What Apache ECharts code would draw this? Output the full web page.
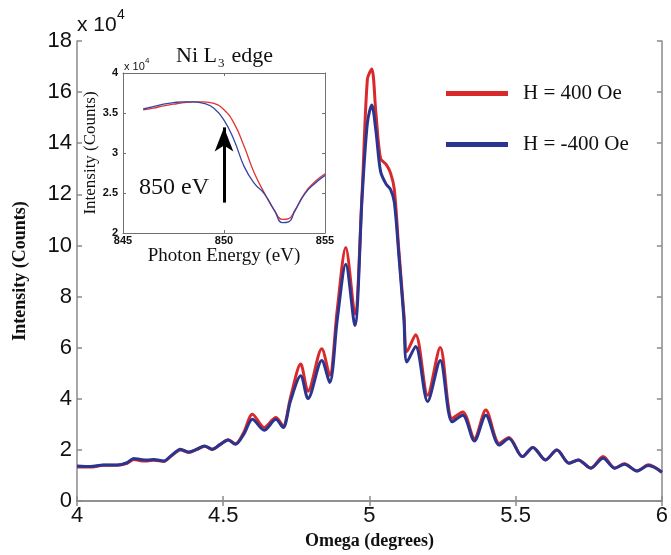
<!DOCTYPE html>
<html>
<head>
<meta charset="utf-8">
<script src="https://cdn.jsdelivr.net/npm/echarts@6/dist/echarts.min.js"></script>
<style>html,body{margin:0;padding:0;background:#fff}#c{width:671px;height:555px}</style>
</head>
<body>
<div id="c"></div>
<script>
// Main panel: Omega (degrees) vs Intensity (x10^4 counts)
const omega = [4.00,4.046,4.09,4.137,4.171,4.194,4.217,4.24,4.263,4.297,4.32,4.354,4.382,4.41,4.436,4.462,4.49,4.517,4.542,4.57,4.60,4.64,4.68,4.705,4.73,4.765,4.79,4.837,4.864,4.89,4.919,4.95,4.975,4.993,5.008,5.022,5.038,5.057,5.072,5.085,5.10,5.118,5.128,5.158,5.199,5.242,5.283,5.319,5.359,5.398,5.444,5.477,5.523,5.559,5.602,5.641,5.683,5.714,5.757,5.799,5.839,5.872,5.915,5.954,6.0];
const intensityPos = [1.33,1.33,1.40,1.40,1.48,1.63,1.58,1.57,1.60,1.55,1.74,2.00,1.90,2.02,2.15,2.02,2.22,2.40,2.24,2.68,3.40,2.88,3.27,2.94,4.05,5.36,4.30,5.96,4.92,7.5,9.92,7.32,12.1,16.5,16.9,15.2,13.4,13.17,12.84,12.2,9.9,7.3,5.85,6.51,4.14,6.01,3.23,3.49,2.45,3.56,2.26,2.49,1.74,2.10,1.61,2.00,1.48,1.61,1.29,1.74,1.29,1.46,1.18,1.42,1.13];
const intensityNeg = [1.37,1.35,1.41,1.41,1.50,1.67,1.63,1.61,1.63,1.57,1.76,2.03,1.92,2.03,2.16,2.03,2.22,2.39,2.22,2.61,3.20,2.77,3.20,2.88,3.92,4.90,4.01,5.50,4.64,7.1,9.27,6.87,11.9,14.8,15.5,14.5,12.9,12.4,12.2,11.7,9.7,7.1,5.44,6.05,3.90,5.50,3.10,3.36,2.35,3.36,2.19,2.45,1.74,2.10,1.61,2.00,1.48,1.61,1.29,1.68,1.29,1.44,1.18,1.39,1.13];
const seriesNames = ['H = 400 Oe','H = -400 Oe'];

// Inset: Ni L3 edge, Photon Energy (eV) vs Intensity (x10^4 counts)
const energy = [846,846.5,847,847.5,848,848.5,849,849.5,850,850.5,851,851.5,852,852.5,852.9,853.2,853.5,854,854.5,855];
const insetPos = [3.54,3.56,3.59,3.61,3.63,3.64,3.64,3.62,3.54,3.37,3.08,2.75,2.50,2.28,2.17,2.18,2.28,2.50,2.64,2.74];
const insetNeg = [3.55,3.58,3.61,3.63,3.64,3.64,3.62,3.56,3.41,3.16,2.83,2.62,2.49,2.28,2.13,2.14,2.27,2.49,2.62,2.72];
const arrowEnergy = 850;
const arrowFrom = 2.38, arrowTo = 3.32;

const pair = (xs, ys) => xs.map((x, i) => [x, ys[i]]);

const RED = '#d9292b', BLUE = '#2b3590';
const frame = '#8a8a8a', frameIn = '#707070';
const serif = '"Liberation Serif","Times New Roman",serif';
const sans = '"Liberation Sans",Arial,sans-serif';

const mainAxisCommon = {
  axisLine: {show: true, lineStyle: {color: frame, width: 1.5}},
  axisTick: {show: true, inside: true, length: 5, lineStyle: {color: frame, width: 1.5}},
  splitLine: {show: false}
};
const insetAxisCommon = {
  z: 8,
  axisLine: {show: true, lineStyle: {color: frameIn, width: 1}},
  axisTick: {show: true, inside: true, length: 3, lineStyle: {color: frameIn, width: 1}},
  splitLine: {show: false}
};

const chart = echarts.init(document.getElementById('c'), null, {renderer: 'canvas'});
chart.setOption({
  animation: false,
  backgroundColor: '#fff',
  grid: [
    {left: 77, top: 41, right: 7, bottom: 52},
    {left: 123, top: 73, width: 202, height: 160, show: true, backgroundColor: '#fff', borderWidth: 0, z: 1}
  ],
  legend: {
    data: seriesNames,
    orient: 'vertical',
    left: 446, top: 83, padding: 0,
    itemWidth: 62, itemHeight: 5, itemGap: 30,
    icon: 'rect',
    textStyle: {fontFamily: serif, fontSize: 21, color: '#111', padding: [0, 0, 0, 10]}
  },
  xAxis: [
    Object.assign({gridIndex: 0, type: 'value', min: 4, max: 6, interval: 0.5, position: 'bottom',
      name: 'Omega (degrees)', nameLocation: 'middle', nameGap: 30,
      nameTextStyle: {fontFamily: serif, fontWeight: 'bold', fontSize: 18, color: '#111'},
      axisLabel: {fontFamily: sans, fontSize: 22, color: '#111', margin: 4}}, mainAxisCommon),
    Object.assign({gridIndex: 0, type: 'value', min: 4, max: 6, interval: 0.5, position: 'top',
      axisLabel: {show: false}}, mainAxisCommon),
    Object.assign({gridIndex: 1, type: 'value', min: 845, max: 855, interval: 5, position: 'bottom',
      name: 'Photon Energy (eV)', nameLocation: 'middle', nameGap: 12,
      nameTextStyle: {fontFamily: serif, fontSize: 19, color: '#111'},
      axisLabel: {fontFamily: sans, fontWeight: 'bold', fontSize: 11, color: '#111', margin: 2}}, insetAxisCommon),
    Object.assign({gridIndex: 1, type: 'value', min: 845, max: 855, interval: 5, position: 'top',
      axisLabel: {show: false}}, insetAxisCommon)
  ],
  yAxis: [
    Object.assign({gridIndex: 0, type: 'value', min: 0, max: 18, interval: 2, position: 'left',
      name: 'Intensity (Counts)', nameLocation: 'middle', nameGap: 48,
      nameTextStyle: {fontFamily: serif, fontWeight: 'bold', fontSize: 18, color: '#111'},
      axisLabel: {fontFamily: sans, fontSize: 22, color: '#111', margin: 5}}, mainAxisCommon),
    Object.assign({gridIndex: 0, type: 'value', min: 0, max: 18, interval: 2, position: 'right',
      axisLabel: {show: false}}, mainAxisCommon),
    Object.assign({gridIndex: 1, type: 'value', min: 2, max: 4, interval: 0.5, position: 'left',
      name: 'Intensity (Counts)', nameLocation: 'middle', nameGap: 19,
      nameTextStyle: {fontFamily: serif, fontSize: 17, color: '#111'},
      axisLabel: {fontFamily: sans, fontWeight: 'bold', fontSize: 11, color: '#111', margin: 5}}, insetAxisCommon),
    Object.assign({gridIndex: 1, type: 'value', min: 2, max: 4, interval: 0.5, position: 'right',
      axisLabel: {show: false}}, insetAxisCommon)
  ],
  series: [
    {name: seriesNames[0], type: 'line', xAxisIndex: 0, yAxisIndex: 0, data: pair(omega, intensityPos),
      showSymbol: false, smooth: 0.3, color: RED, lineStyle: {color: RED, width: 3}, z: 2},
    {name: seriesNames[1], type: 'line', xAxisIndex: 0, yAxisIndex: 0, data: pair(omega, intensityNeg),
      showSymbol: false, smooth: 0.3, color: BLUE, lineStyle: {color: BLUE, width: 3}, z: 3},
    {name: 'inset+', type: 'line', xAxisIndex: 2, yAxisIndex: 2, data: pair(energy, insetPos),
      showSymbol: false, smooth: true, color: '#e03535', lineStyle: {color: '#e03535', width: 1.3}, z: 6,
      markLine: {silent: true, symbol: ['none', 'arrow'], symbolSize: [14, 24],
        lineStyle: {color: '#000', width: 3, type: 'solid'}, label: {show: false},
        data: [[{coord: [arrowEnergy, arrowFrom]}, {coord: [arrowEnergy, arrowTo]}]]}},
    {name: 'inset-', type: 'line', xAxisIndex: 2, yAxisIndex: 2, data: pair(energy, insetNeg),
      showSymbol: false, smooth: true, color: '#3545a5', lineStyle: {color: '#3545a5', width: 1.3}, z: 6}
  ],
  graphic: [
    {type: 'text', left: 77, top: 15, z: 10, style: {text: 'x 10', font: '21px ' + sans, fill: '#111'}},
    {type: 'text', left: 117, top: 8, z: 10, style: {text: '4', font: '14px ' + sans, fill: '#111'}},
    {type: 'text', left: 124, top: 61, z: 10, style: {text: 'x 10', font: '11px ' + sans, fill: '#111'}},
    {type: 'text', left: 145, top: 57, z: 10, style: {text: '4', font: '8px ' + sans, fill: '#111'}},
    {type: 'text', left: 176, top: 45, z: 10, style: {text: 'Ni L', font: '22px ' + serif, fill: '#111'}},
    {type: 'text', left: 218, top: 57, z: 10, style: {text: '3', font: '13px ' + serif, fill: '#111'}},
    {type: 'text', left: 226, top: 45, z: 10, style: {text: ' edge', font: '22px ' + serif, fill: '#111'}},
    {type: 'text', left: 139, top: 176, z: 10, style: {text: '850 eV', font: '24px ' + serif, fill: '#111'}}
  ]
});
</script>
</body>
</html>
